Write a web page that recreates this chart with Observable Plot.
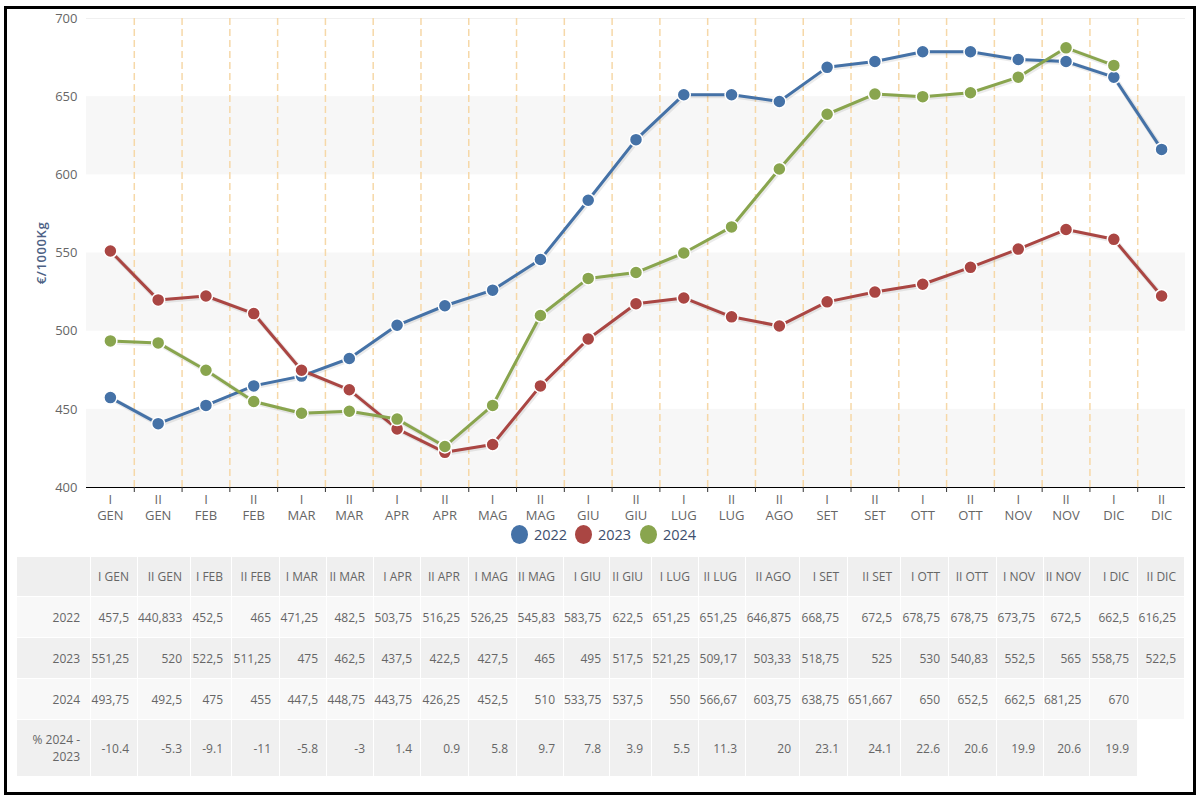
<!DOCTYPE html>
<html>
<head>
<meta charset="utf-8">
<script src="https://cdn.jsdelivr.net/npm/d3@7"></script>
<script src="https://cdn.jsdelivr.net/npm/@observablehq/plot@0.6"></script>
<style>
  html, body { margin: 0; padding: 0; background: #fff; width: 1200px; height: 800px; overflow: hidden; font-family: "Open Sans", sans-serif; }
  #frame { position: absolute; left: 4px; top: 6px; width: 1192px; height: 789px; border: 3px solid #000; box-sizing: border-box; }
  #chart { position: absolute; left: 0; top: 0; }
  #chart g[aria-label="y-axis label"] text { fill: #4d6185; font-weight: 600; font-size: 13px; letter-spacing: 0.6px; }
  #legend { position: absolute; top: 524px; left: 0; width: 1200px; height: 20px; }
  #legend .item { position: absolute; top: 0; height: 20px; display: flex; align-items: center; font-size: 14.5px; color: #3e4f6e; }
  #legend .dot { width: 17px; height: 19px; border-radius: 50%; margin-right: 6px; }
  #tbl { position: absolute; left: 16px; top: 556px; border-collapse: collapse; table-layout: fixed; width: 1168px; font-size: 12px; color: #666; }
  #tbl td { border: 1px solid #fff; text-align: right; padding: 0 8px 0 0; white-space: nowrap; line-height: 17px; overflow: visible; }
  #tbl td.lbl { white-space: normal; padding-right: 10px; }
  #tbl tr.hdr td { background: #efefef; height: 39px; }
  #tbl tr.r0 td { background: #f8f8f8; height: 40px; }
  #tbl tr.r1 td { background: #f0f0f0; height: 40px; }
  #tbl tr.r2 td { background: #f8f8f8; height: 40px; }
  #tbl tr.r3 td { background: #f0f0f0; height: 56px; }
  #tbl tr.r3 td.empty { background: #fff; }
</style>
</head>
<body>
<div id="frame"></div>
<div id="chart"></div>
<div id="legend"></div>
<table id="tbl"></table>
<script>
// ---- data ----
const labels = ["I GEN","II GEN","I FEB","II FEB","I MAR","II MAR","I APR","II APR","I MAG","II MAG","I GIU","II GIU","I LUG","II LUG","II AGO","I SET","II SET","I OTT","II OTT","I NOV","II NOV","I DIC","II DIC"];
const years = ["2022", "2023", "2024"];
const colors = ["#4572A7", "#AA4643", "#89A54E"];
const v2022 = [457.5,440.833,452.5,465,471.25,482.5,503.75,516.25,526.25,545.83,583.75,622.5,651.25,651.25,646.875,668.75,672.5,678.75,678.75,673.75,672.5,662.5,616.25];
const v2023 = [551.25,520,522.5,511.25,475,462.5,437.5,422.5,427.5,465,495,517.5,521.25,509.17,503.33,518.75,525,530,540.83,552.5,565,558.75,522.5];
const v2024 = [493.75,492.5,475,455,447.5,448.75,443.75,426.25,452.5,510,533.75,537.5,550,566.67,603.75,638.75,651.667,650,652.5,662.5,681.25,670,null];
const pct = [-10.4,-5.3,-9.1,-11,-5.8,-3,1.4,0.9,5.8,9.7,7.8,3.9,5.5,11.3,20,23.1,24.1,22.6,20.6,19.9,20.6,19.9];
const yTicks = [400,450,500,550,600,650,700];
const yBands = [[400,450],[500,550],[600,650]];
const yLabel = "€/1000Kg";
const pctLabel = "% 2024 - 2023";
const colWidths = [74,47,53,41,48,47,47,47,48,48,47,46,42,47,47,54,48,53,48,48,47,46,48,47];

// ---- build ----
const seriesVals = [v2022, v2023, v2024];
const rows = [];
seriesVals.forEach((vals, s) => vals.forEach((v, i) => { if (v != null) rows.push({i, v, year: years[s]}); }));
const idx = d3.range(labels.length);
const bounds = idx.slice(0, -1).map(i => i + 0.5);
const bandRows = yBands.map(([a, b]) => ({a, b}));

const marks = [
  Plot.rectY(bandRows, {x1: -0.5, x2: labels.length - 0.5, y1: "a", y2: "b", fill: "#f7f7f7"}),
  Plot.ruleY([yTicks[yTicks.length - 1]], {stroke: "#f0f0f0"}),
  Plot.ruleX(bounds, {stroke: "#f6d8a8", strokeWidth: 1.5, strokeDasharray: "7,4"}),
  Plot.ruleY([yTicks[0]], {stroke: "#000", strokeWidth: 1}),
  Plot.axisX(bounds, {tickSize: 5, tickFormat: () => "", stroke: "#333", label: null}),
  Plot.axisX(idx, {tickSize: 0, tickPadding: 4, tickFormat: i => labels[i].replace(" ", "\n"), lineHeight: 1.3, fontSize: 13, fill: "#666", label: null}),
  Plot.axisY(yTicks, {tickSize: 0, tickPadding: 9, fontSize: 13, fill: "#666", label: yLabel, labelAnchor: "center", labelOffset: 50, labelArrow: "none"})
];
years.forEach((y, s) => {
  const data = rows.filter(r => r.year === y);
  marks.push(Plot.line(data, {x: "i", y: "v", stroke: "#000", strokeOpacity: 0.08, strokeWidth: 5, dx: 1, dy: 1}));
  marks.push(Plot.line(data, {x: "i", y: "v", stroke: colors[s], strokeWidth: 3}));
  marks.push(Plot.dot(data, {x: "i", y: "v", r: 6.5, fill: colors[s], stroke: "#fff", strokeWidth: 1.5}));
});

const chart = Plot.plot({
  width: 1200,
  height: 522,
  marginTop: 18,
  marginBottom: 35,
  marginLeft: 86,
  marginRight: 15,
  style: {fontFamily: "Open Sans", fontSize: "12px", color: "#666", background: "transparent", overflow: "visible"},
  x: {type: "linear", domain: [-0.5, labels.length - 0.5], axis: null, label: null},
  y: {domain: [yTicks[0], yTicks[yTicks.length - 1]], axis: null},
  marks
});
document.getElementById("chart").appendChild(chart);

// legend
const legend = document.getElementById("legend");
const legendX = [511, 575, 640];
years.forEach((y, s) => {
  const it = document.createElement("div");
  it.className = "item";
  it.style.left = legendX[s] + "px";
  it.innerHTML = `<span class="dot" style="background:${colors[s]}"></span><span>${y}</span>`;
  legend.appendChild(it);
});

// table
const tbl = document.getElementById("tbl");
const cg = document.createElement("colgroup");
colWidths.forEach(w => { const c = document.createElement("col"); c.style.width = w + "px"; cg.appendChild(c); });
tbl.appendChild(cg);
const fmt = v => v == null ? "" : String(v).replace(".", ",");
function addRow(cls, cells, emptyAfter) {
  const tr = document.createElement("tr");
  tr.className = cls;
  cells.forEach((c, k) => { const td = document.createElement("td"); td.textContent = c; if (k === 0) td.className = "lbl"; tr.appendChild(td); });
  for (let k = 0; k < (emptyAfter || 0); k++) { const td = document.createElement("td"); td.className = "empty"; tr.appendChild(td); }
  tbl.appendChild(tr);
}
addRow("hdr", ["", ...labels]);
seriesVals.forEach((vals, s) => addRow("r" + s, [years[s], ...vals.map(fmt)]));
addRow("r3", [pctLabel, ...pct.map(String)], labels.length - pct.length);
</script>
</body>
</html>
